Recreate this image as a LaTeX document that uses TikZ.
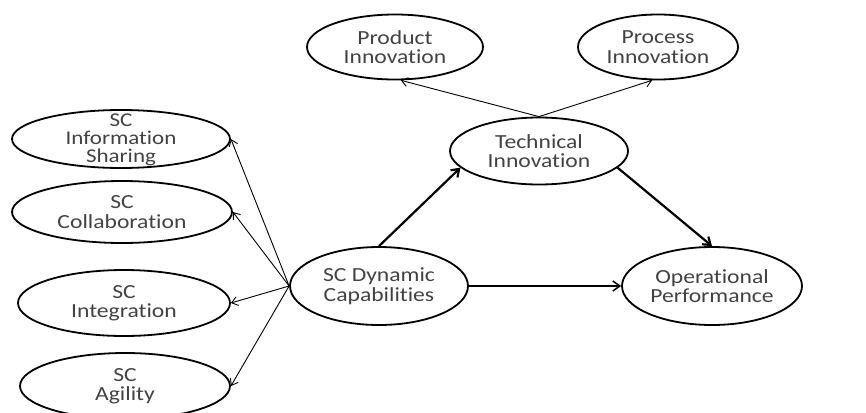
\documentclass[tikz,border=0pt]{standalone}
\usepackage{fontspec}
\setmainfont{Carlito}[FakeStretch=1.18, Ligatures={NoCommon}]
\usetikzlibrary{shapes.geometric,arrows.meta}
\tikzset{
  ell/.style={draw, line width=1.8pt, ellipse, inner sep=0pt},
  txt/.style={align=center, inner sep=0pt,
    font=\fontsize{20pt}{19.5pt}\selectfont, text=black!74},
  txtthree/.style={txt, font=\fontsize{19.5pt}{18.2pt}\selectfont},
  thin/.style={line width=0.9pt, -{Straight Barb[length=6pt,width=9pt]}},
  thick/.style={line width=2.2pt, -{Straight Barb[length=7pt,width=10pt]}},
}
\begin{document}
\begin{tikzpicture}[x=1pt,y=-1pt]
\useasboundingbox (0,0) rectangle (866,412);
\node[ell, minimum width=218pt, minimum height=58pt] (info) at (121,139) {};
\node[txtthree] (infot) at ([yshift=-1pt]info.center) {SC\\Information\\Sharing};
\node[ell, minimum width=220pt, minimum height=62pt] (coll) at (122,212) {};
\node[txt] (collt) at (coll) {SC\\Collaboration};
\node[ell, minimum width=212pt, minimum height=66pt] (integ) at (124,303) {};
\node[txt] (integt) at (integ) {SC\\Integration};
\node[ell, minimum width=210pt, minimum height=66pt] (agil) at (125,386) {};
\node[txt] (agilt) at (agil) {SC\\Agility};
\node[ell, minimum width=178pt, minimum height=78pt] (scd) at (379,286) {};
\node[txt] (scdt) at (scd) {SC Dynamic\\Capabilities};
\node[ell, minimum width=180pt, minimum height=78pt] (op) at (712,286) {};
\node[txt] (opt) at (op) {Operational\\Performance};
\node[ell, minimum width=178pt, minimum height=67pt] (ti) at (539,151) {};
\node[txt] (tit) at (ti) {Technical\\Innovation};
\node[ell, minimum width=176pt, minimum height=65pt] (prod) at (395,47) {};
\node[txt] (prodt) at (prod) {Product\\Innovation};
\node[ell, minimum width=160pt, minimum height=65pt] (proc) at (658,47) {};
\node[txt] (proct) at (proc) {Process\\Innovation};

\coordinate (src) at (scd.west);
\draw[thin] (src) -- (info.east);
\draw[thin] (src) -- (coll.east);
\draw[thin] (src) -- (integ.east);
\draw[thin] (src) -- (agil.east);
\draw[thin] (ti.north) -- (prod.-80);
\draw[thin] (ti.north) -- (proc.-100);
\draw[thick] (scd.north) -- (ti.192);
\draw[thick] (ti.-12) -- (op.north);
\draw[line width=1.5pt, -{Straight Barb[length=7pt,width=10pt]}] (scd.east) -- (op.west);
\end{tikzpicture}
\end{document}
